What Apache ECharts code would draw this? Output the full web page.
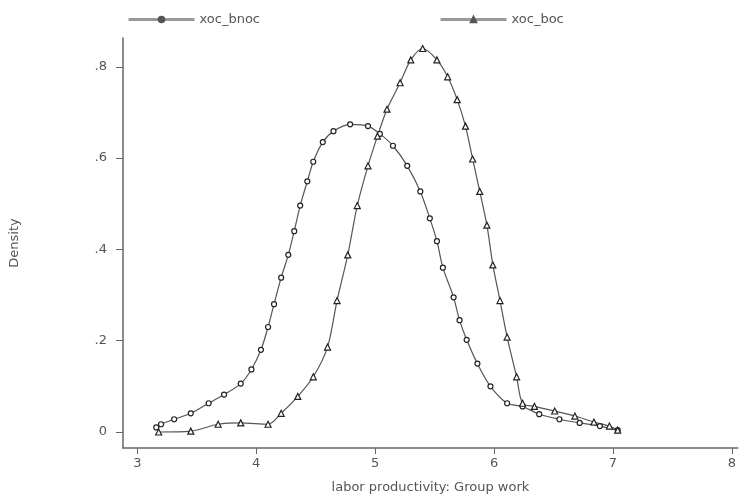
<!DOCTYPE html>
<html>
<head>
<meta charset="utf-8">
<script src="https://cdn.jsdelivr.net/npm/echarts@6/dist/echarts.min.js"></script>
<style>
  html, body { margin: 0; padding: 0; background: #fff; }
  #chart { width: 739px; height: 499px; }
</style>
</head>
<body>
<div id="chart"></div>
<script>
// kernel density, xoc_bnoc (circles)
const bnocX = [3.16, 3.20, 3.31, 3.45, 3.60, 3.73, 3.87, 3.96, 4.04, 4.10, 4.15, 4.21, 4.27, 4.32, 4.37, 4.43, 4.48, 4.56, 4.65, 4.79, 4.94, 5.04, 5.15, 5.27, 5.38, 5.46, 5.52, 5.57, 5.66, 5.71, 5.77, 5.86, 5.97, 6.11, 6.24, 6.38, 6.55, 6.72, 6.89, 7.04]
const bnocY = [0.010, 0.017, 0.028, 0.041, 0.063, 0.082, 0.106, 0.137, 0.180, 0.230, 0.280, 0.338, 0.388, 0.440, 0.496, 0.549, 0.592, 0.635, 0.659, 0.674, 0.670, 0.653, 0.627, 0.583, 0.527, 0.468, 0.418, 0.360, 0.295, 0.245, 0.202, 0.150, 0.100, 0.063, 0.056, 0.039, 0.028, 0.020, 0.013, 0.004]
// xoc_boc (triangles)
const bocX = [3.18, 3.45, 3.68, 3.87, 4.10, 4.21, 4.35, 4.48, 4.60, 4.68, 4.77, 4.85, 4.94, 5.02, 5.10, 5.21, 5.30, 5.40, 5.52, 5.61, 5.69, 5.76, 5.82, 5.88, 5.94, 5.99, 6.05, 6.11, 6.19, 6.24, 6.34, 6.51, 6.68, 6.84, 6.97, 7.04]
const bocY = [0.0, 0.002, 0.017, 0.020, 0.017, 0.041, 0.078, 0.121, 0.186, 0.288, 0.388, 0.496, 0.583, 0.648, 0.707, 0.765, 0.815, 0.840, 0.815, 0.778, 0.728, 0.670, 0.598, 0.527, 0.453, 0.366, 0.288, 0.208, 0.121, 0.063, 0.056, 0.046, 0.035, 0.022, 0.013, 0.004]
const xTicks = [3, 4, 5, 6, 7, 8]
const yTicks = [0, 0.2, 0.4, 0.6, 0.8]
const yTickLabels = ['0', '.2', '.4', '.6', '.8']

const font = '"DejaVu Sans", "Liberation Sans", sans-serif'
const axisColor = '#666'
const textColor = '#555'

const chart = echarts.init(document.getElementById('chart'))

const legendBase = {
  top: 8,
  itemWidth: 66,
  itemHeight: 7,
  itemGap: 6,
  lineStyle: { color: '#999', width: 3 },
  itemStyle: { color: '#555', borderColor: '#555' },
  textStyle: { fontFamily: font, fontSize: 13, color: textColor }
}

chart.setOption({
  animation: false,
  legend: [
    Object.assign({ left: 122, data: ['xoc_bnoc'] }, legendBase),
    Object.assign({ left: 434, data: ['xoc_boc'] }, legendBase)
  ],
  grid: { left: 122, right: 0, top: 38, bottom: 47 },
  xAxis: {
    type: 'value',
    min: 2.88,
    max: 8.05,
    name: 'labor productivity: Group work',
    nameLocation: 'middle',
    nameGap: 33,
    nameTextStyle: { fontFamily: font, fontSize: 13, color: textColor },
    axisLine: { show: true, onZero: false, lineStyle: { color: axisColor, width: 1.5 } },
    axisTick: { show: true, length: 6, customValues: xTicks, lineStyle: { color: axisColor } },
    axisLabel: { customValues: xTicks, fontFamily: font, fontSize: 13, color: textColor, margin: 9 },
    splitLine: { show: false }
  },
  yAxis: {
    type: 'value',
    min: -0.035,
    max: 0.863,
    name: 'Density',
    nameLocation: 'middle',
    nameGap: 102,
    nameTextStyle: { fontFamily: font, fontSize: 13, color: textColor },
    axisLine: { show: true, onZero: false, lineStyle: { color: axisColor, width: 1.5 } },
    axisTick: { show: true, length: 7, customValues: yTicks, lineStyle: { color: axisColor } },
    axisLabel: {
      customValues: yTicks,
      fontFamily: font, fontSize: 13, color: textColor, margin: 16,
      formatter: v => yTickLabels[yTicks.findIndex(t => Math.abs(t - v) < 1e-6)] ?? ''
    },
    splitLine: { show: false }
  },
  series: [
    {
      name: 'xoc_bnoc',
      type: 'line',
      smooth: 0.3,
      data: bnocX.map((x, i) => [x, bnocY[i]]),
      symbol: 'circle',
      symbolSize: 5,
      showAllSymbol: true,
      lineStyle: { color: '#555', width: 1.2 },
      itemStyle: { color: '#fff', borderColor: '#222', borderWidth: 1.2 }
    },
    {
      name: 'xoc_boc',
      type: 'line',
      smooth: 0.3,
      data: bocX.map((x, i) => [x, bocY[i]]),
      symbol: 'triangle',
      symbolSize: 6,
      showAllSymbol: true,
      lineStyle: { color: '#555', width: 1.2 },
      itemStyle: { color: '#fff', borderColor: '#222', borderWidth: 1.2 }
    }
  ]
})
</script>
</body>
</html>
